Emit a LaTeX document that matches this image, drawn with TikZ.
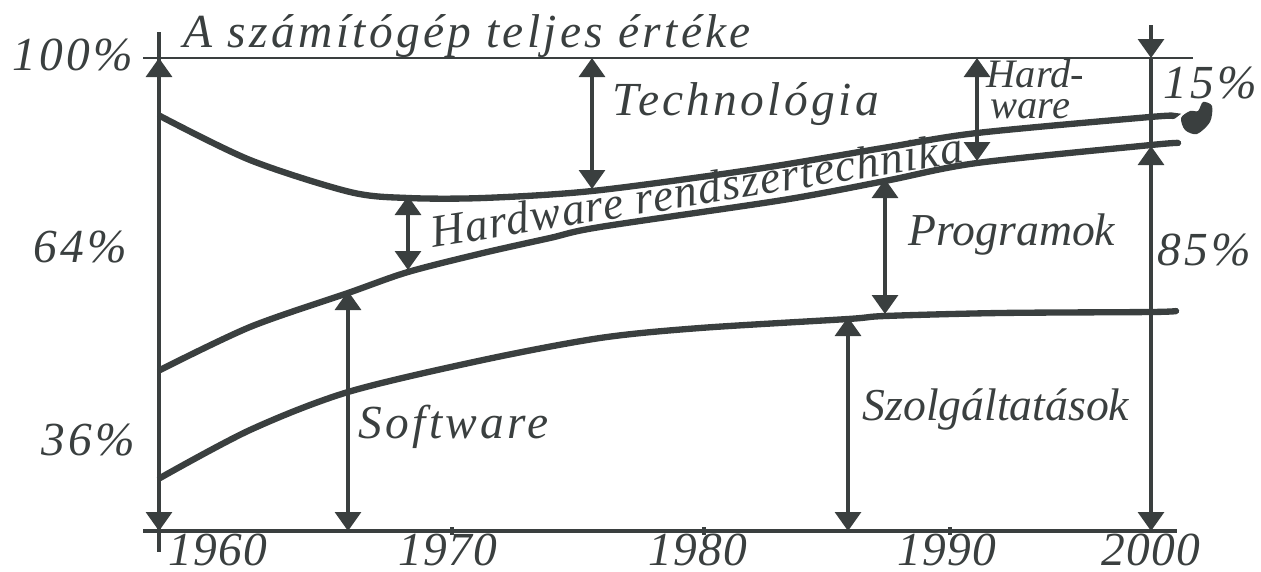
\documentclass[tikz,border=0pt]{standalone}
\usepackage{fontspec}
\setmainfont{Liberation Serif}
\usetikzlibrary{arrows.meta}
\definecolor{ink}{HTML}{3A3F3F}
\tikzset{
  tri/.tip={Triangle[length=1.9mm,width=2.6mm]},
  thinline/.style={draw=ink, line width=0.9pt},
  curve/.style={draw=ink, line width=1.8pt, line cap=round},
  gaparrow/.style={thinline, tri-tri},
  lbl/.style={text=ink, inner sep=0pt, font=\itshape\fontsize{13}{15}\selectfont},
  lbls/.style={lbl, font=\itshape\fontsize{13.5}{15}\selectfont\addfontfeature{LetterSpace=7}},
  yr/.style={lbl, anchor=base, font=\itshape\fontsize{13.5}{15}\selectfont\addfontfeature{LetterSpace=3}},
}

\begin{document}
\begin{tikzpicture}[x=0.1mm,y=-0.1mm]
  \useasboundingbox (0,0) rectangle (1261,571);
  % frame lines
  \coordinate (tl-w) at (143,58);  \coordinate (tl-e) at (1193,58);
  \coordinate (ax-w) at (143,531); \coordinate (ax-e) at (1177,531);
  \draw[thinline, line width=0.7pt] (tl-w) -- (tl-e);
  \draw[thinline] (ax-w) -- (ax-e);
  \foreach \t in {452,704,950} \draw[thinline] (\t,527) -- (\t,535);
  \coordinate (l-top) at (159,32); \coordinate (l-bot) at (159,552);
  \coordinate (l-100) at (159,58); \coordinate (l-0) at (159,531);
  \draw[thinline] (l-top) -- (l-bot);
  \draw[gaparrow] (l-100) -- (l-0);

  % the three curves
  \draw[curve] plot[smooth] coordinates {(160,116) (250,160) (350,192) (408,198) (483,198)
    (592,191) (750,170) (883,148) (977,133) (1150,117) (1173,116)};
  \draw[curve] plot[smooth] coordinates {(160,370) (250,327) (348,293) (408,272) (483,253)
    (550,238) (600,227) (783,200) (885,181) (977,163) (1151,145) (1178,143)};
  \draw[curve] plot[smooth] coordinates {(160,478) (250,430) (348,392) (483,360) (600,338)
    (700,328) (848,319) (885,316) (1000,313) (1151,312) (1176,311)};

  % arrows between the curves
  \coordinate (tech-a) at (592,58);  \coordinate (tech-b) at (592,189);
  \coordinate (hw-a) at (977,58);    \coordinate (hw-b) at (977,161);
  \coordinate (hwr-a) at (408,196);  \coordinate (hwr-b) at (408,270);
  \coordinate (sw-a) at (348,291);   \coordinate (sw-b) at (348,531);
  \coordinate (prog-a) at (885,179); \coordinate (prog-b) at (885,314);
  \coordinate (szolg-a) at (848,317);\coordinate (szolg-b) at (848,531);
  \draw[gaparrow] (tech-a) -- (tech-b);
  \draw[gaparrow] (hw-a) -- (hw-b);
  \draw[gaparrow] (hwr-a) -- (hwr-b);
  \draw[gaparrow] (sw-a) -- (sw-b);
  \draw[gaparrow] (prog-a) -- (prog-b);
  \draw[gaparrow] (szolg-a) -- (szolg-b);

  % 2000 column
  \coordinate (r-top) at (1151,25); \coordinate (r-100) at (1151,58);
  \coordinate (r-b) at (1151,146);  \coordinate (r-0) at (1151,531);
  \draw[thinline, -tri] (r-top) -- (r-100);
  \draw[thinline] (r-100) -- (r-b);
  \draw[gaparrow] (r-b) -- (r-0);
  \fill[ink] plot[smooth cycle] coordinates {(1181,118) (1190,111) (1198,111) (1203,102)
    (1212,106) (1210,122) (1197,134) (1185,130)};

  % labels
  \node[lbls, anchor=base west] (title) at (183,47) {A számítógép teljes értéke};
  \node[lbls, anchor=base east] (p100) at (134,70) {100\%};
  \node[lbls, anchor=base east] (p64) at (128,262) {64\%};
  \node[lbls, anchor=base east] (p36) at (136,455) {36\%};
  \node[lbls, anchor=base west] (tech) at (612,115) {Technológia};
  \node[lbl, font=\itshape\fontsize{11.5}{13}\selectfont, anchor=base west] (hw1) at (986,87) {Hard-};
  \node[lbl, font=\itshape\fontsize{11.5}{13}\selectfont, anchor=base west] (hw2) at (990,118) {ware};
  \node[lbls, anchor=base west] (p15) at (1163,98) {15\%};
  \node[lbl, font=\itshape\fontsize{13}{15}\selectfont\addfontfeature{LetterSpace=3},
    rotate=9.2, anchor=base west] (hwr) at (433,248) {Hardware rendszertechnika};
  \node[lbl, anchor=base west] (prog) at (908,245) {Programok};
  \node[lbls, anchor=base west] (p85) at (1157,265) {85\%};
  \node[lbls, anchor=base west] (sw) at (358,438) {Software};
  \node[lbl, anchor=base west] (szolg) at (862,420) {Szolgáltatások};
  \node[yr] (y60) at (218,565) {1960};
  \node[yr] (y70) at (448,565) {1970};
  \node[yr] (y80) at (698,565) {1980};
  \node[yr] (y90) at (947,565) {1990};
  \node[yr] (y00) at (1151,565) {2000};
\end{tikzpicture}
\end{document}
